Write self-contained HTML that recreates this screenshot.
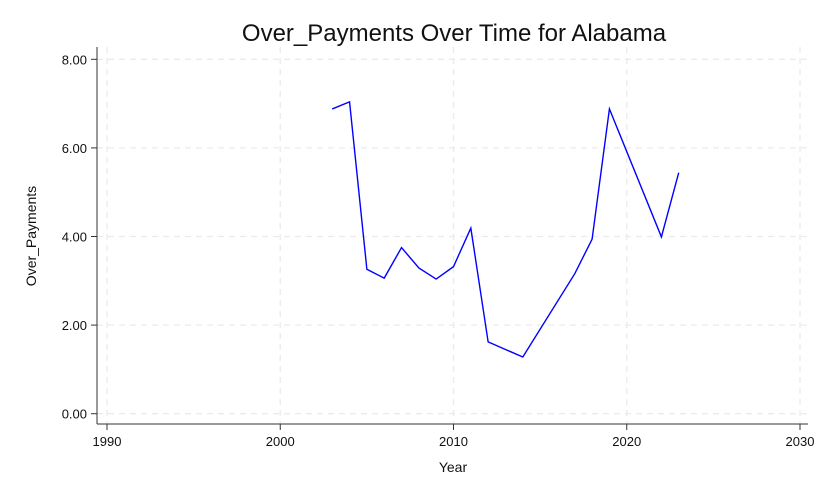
<!DOCTYPE html>
<html><head><meta charset="utf-8"><style>
body{margin:0;background:#fff;font-family:"Liberation Sans",Arial,sans-serif}
</style></head><body>
<svg id="chart" width="831" height="498" xmlns="http://www.w3.org/2000/svg" font-family="Liberation Sans, Arial, sans-serif"></svg>
<script>
const years=[2003,2004,2005,2006,2007,2008,2009,2010,2011,2012,2013,2014,2017,2018,2019,2022,2023];
const values=[6.88,7.04,3.26,3.06,3.75,3.29,3.04,3.32,4.19,1.62,1.45,1.28,3.16,3.94,6.88,3.99,5.44];
const xTicks=[1990,2000,2010,2020,2030];
const yTicks=[0,2,4,6,8];
const yTickLabels=["0.00","2.00","4.00","6.00","8.00"];
const NS="http://www.w3.org/2000/svg";
const svg=document.getElementById('chart');
const X=v=>107+(v-1990)*(800-107)/40;
const Y=v=>413.7-v*44.3;
function el(t,a,p){const e=document.createElementNS(NS,t);for(const k in a)e.setAttribute(k,a[k]);(p||svg).appendChild(e);return e;}
const bg=el('rect',{x:97,y:47,width:711,height:377,fill:'#fff'});


xTicks.forEach(t=>{
 const g=el('line',{x1:X(t),x2:X(t),y1:47,y2:424,stroke:'#ebebeb','stroke-dasharray':'6,5','stroke-width':1.3});
 
 
 const tk=el('line',{x1:X(t),x2:X(t),y1:424,y2:430,stroke:'#333'});
 
 
 const lb=el('text',{x:X(t),y:446,'text-anchor':'middle','font-size':13,fill:'#111'});
 lb.textContent=t;
 
 
});
yTicks.forEach((t,i)=>{
 const g=el('line',{x1:97,x2:808,y1:Y(t),y2:Y(t),stroke:'#ebebeb','stroke-dasharray':'6,5','stroke-width':1.3});
 
 
 const tk=el('line',{x1:91,x2:97,y1:Y(t),y2:Y(t),stroke:'#333'});
 
 
 const lb=el('text',{x:87,y:Y(t)+5,'text-anchor':'end','font-size':13,fill:'#111'});
 lb.textContent=yTickLabels[i];
 
 
});
const ax=el('line',{x1:97,x2:97,y1:47,y2:424,stroke:'#333'});


const bx=el('line',{x1:97,x2:808,y1:424,y2:424,stroke:'#333'});


const line=el('polyline',{points:years.map((y,i)=>X(y)+','+Y(values[i])).join(' '),fill:'none',stroke:'#0000ff','stroke-width':1.4});


const title=el('text',{x:454,y:41,'text-anchor':'middle','font-size':24,fill:'#111'});
title.textContent='Over_Payments Over Time for Alabama';


const xt=el('text',{x:453,y:472,'text-anchor':'middle','font-size':14,fill:'#111'});
xt.textContent='Year';


const yt=el('text',{x:0,y:0,'text-anchor':'middle','font-size':14,fill:'#111',transform:'translate(36,236) rotate(-90)'});
yt.textContent='Over_Payments';


</script>
</body></html>
